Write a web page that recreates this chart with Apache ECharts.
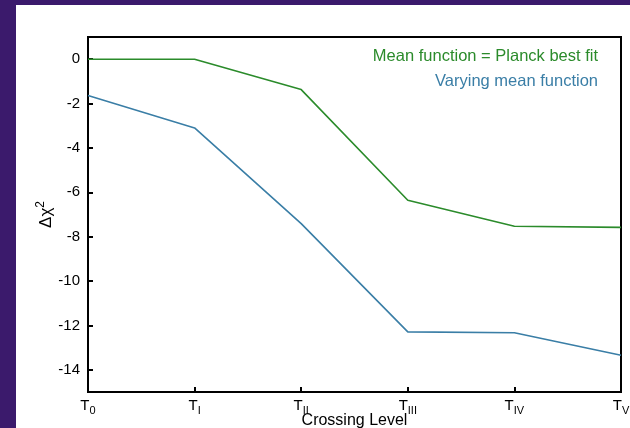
<!DOCTYPE html>
<html>
<head>
<meta charset="utf-8">
<script src="https://cdn.jsdelivr.net/npm/echarts@6/dist/echarts.min.js"></script>
<style>
  html, body { margin: 0; padding: 0; background: #3b1a6c; }
  #panel { position: absolute; left: 16px; top: 5px; width: 614px; height: 423px; background: #fff; }
  #chart { position: absolute; left: 0; top: 0; width: 630px; height: 428px; }
</style>
</head>
<body>
<div id="panel"></div>
<div id="chart"></div>
<script>
// crossing levels T0 .. TV
const levels = ['T0', 'TI', 'TII', 'TIII', 'TIV', 'TV']
const levelSubs = ['0', 'I', 'II', 'III', 'IV', 'V']
// delta chi^2
const planckFit = [0, 0, -1.37, -6.36, -7.53, -7.58]
const varyingMean = [-1.64, -3.10, -7.41, -12.29, -12.33, -13.34]
const yTicks = [-14, -12, -10, -8, -6, -4, -2, 0]

const greenColor = '#2b8b2b'
const blueColor = '#3a7ea6'
const font = 'Liberation Sans, Arial, Helvetica, sans-serif'

const chart = echarts.init(document.getElementById('chart'))
chart.setOption({
  backgroundColor: 'transparent',
  animation: false,
  textStyle: { fontFamily: font },
  grid: {
    left: 88,
    right: 9,
    top: 37,
    bottom: 36,
    outerBoundsMode: 'none',
    show: true,
    borderColor: '#000',
    borderWidth: 2,
    backgroundColor: 'transparent'
  },
  legend: {
    orient: 'vertical',
    right: 22,
    top: 43,
    align: 'right',
    itemWidth: 0,
    itemHeight: 0,
    itemGap: 8,
    selectedMode: false,
    textStyle: { fontSize: 16.5, fontFamily: font },
    data: [
      { name: 'Mean function = Planck best fit', icon: 'none', textStyle: { color: greenColor } },
      { name: 'Varying mean function', icon: 'none', textStyle: { color: blueColor } }
    ]
  },
  xAxis: {
    type: 'category',
    data: levels,
    boundaryGap: false,
    name: 'Crossing Level',
    nameLocation: 'middle',
    nameGap: 21,
    nameMoveOverlap: false,
    nameTextStyle: { fontSize: 16, color: '#000', fontFamily: font, verticalAlign: 'top' },
    axisLine: { onZero: false, lineStyle: { color: '#000', width: 2 } },
    axisTick: { inside: true, length: 5, alignWithLabel: true, lineStyle: { color: '#000', width: 2 } },
    splitLine: { show: false },
    axisLabel: {
      margin: 3,
      interval: 0,
      color: '#000',
      formatter: function (value, idx) {
        return '{t|T}{s|' + levelSubs[idx] + '}'
      },
      rich: {
        t: { fontSize: 15, color: '#000', fontFamily: font },
        s: { fontSize: 11, color: '#000', fontFamily: font, padding: [10, 0, 0, 0] }
      }
    }
  },
  yAxis: {
    type: 'value',
    min: -15,
    max: 1,
    name: '{d|Δχ}{p|2}',
    nameLocation: 'middle',
    nameRotate: 90,
    nameGap: 31,
    nameMoveOverlap: false,
    nameTextStyle: {
      rich: {
        d: { fontSize: 17, color: '#000', fontFamily: font },
        p: { fontSize: 12, color: '#000', fontFamily: font, padding: [0, 0, 10, 0] }
      }
    },
    axisLine: { show: true, onZero: false, lineStyle: { color: '#000', width: 2 } },
    axisTick: { show: true, inside: true, length: 5, customValues: yTicks, lineStyle: { color: '#000', width: 2 } },
    axisLabel: { customValues: yTicks, fontSize: 15, color: '#000', margin: 8 },
    splitLine: { show: false }
  },
  series: [
    {
      name: 'Mean function = Planck best fit',
      type: 'line',
      data: planckFit,
      symbol: 'none',
      lineStyle: { color: greenColor, width: 1.6 },
      itemStyle: { color: greenColor }
    },
    {
      name: 'Varying mean function',
      type: 'line',
      data: varyingMean,
      symbol: 'none',
      lineStyle: { color: blueColor, width: 1.6 },
      itemStyle: { color: blueColor }
    }
  ]
})
</script>
</body>
</html>
